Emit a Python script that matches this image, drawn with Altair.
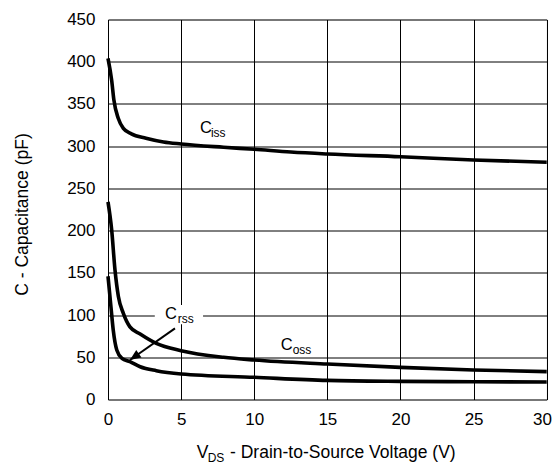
import altair as alt
import pandas as pd

# ---- data ----
vds_ciss = [0, 0.25, 0.4, 0.7, 1.05, 1.6, 2.6, 3.8, 5, 7.9, 10, 12.5, 15, 20, 25, 30]
ciss = [404, 378, 355, 333, 321, 314.5, 309.5, 305, 302.6, 298.7, 296.3, 293, 290.7, 287.5, 283.6, 281]

vds_coss = [0, 0.25, 0.48, 0.71, 1.05, 1.5, 2.2, 3.3, 5, 7.9, 10, 15, 20, 25, 30]
coss = [234, 201, 153, 122, 102, 86, 77.6, 66.5, 57.8, 50, 46.8, 42, 38.1, 35, 33]

vds_crss = [0, 0.2, 0.36, 0.6, 0.95, 1.5, 2.2, 3.3, 5, 10, 15, 20, 25, 30]
crss = [146, 110, 82, 58.6, 48.8, 44.8, 38.8, 34.1, 30.2, 26.3, 22.6, 21.5, 21.1, 20.7]

x_ticks = [0, 5, 10, 15, 20, 25, 30]
y_ticks = [0, 50, 100, 150, 200, 250, 300, 350, 400, 450]

# curve labels: main letter + subscript (data coordinates)
label_text = ["C", "iss", "C", "oss", "C", "rss"]
label_x = [6.29, 7.04, 11.81, 12.63, 3.90, 4.77]
label_y = [315.1, 310.4, 58.6, 53.9, 95.3, 90.2]
label_size = [16.5, 12, 16.5, 12, 16.5, 12]

# white box behind the Crss label, arrow from label to curve
box = {"x": [3.2], "x2": [6.5], "y": [89], "y2": [112]}
arrow_x = [4.58, 1.5]
arrow_y = [84.3, 46.8]

FONT = "Liberation Sans"

rows = []
for name, xs, ys in [("Ciss", vds_ciss, ciss), ("Coss", vds_coss, coss), ("Crss", vds_crss, crss)]:
    for a, b in zip(xs, ys):
        rows.append({"series": name, "vds": a, "c": b})
df = pd.DataFrame(rows)

x_scale = alt.Scale(domain=[0, 30], nice=False, zero=False)
y_scale = alt.Scale(domain=[0, 450], nice=False, zero=False)

x_axis = alt.Axis(values=x_ticks, title=None, grid=True, gridColor="black", gridWidth=1,
                  ticks=False, tickSize=0, domain=False, labelFont=FONT, labelFontSize=17,
                  labelColor="black", labelPadding=12, labelFlush=True, labelFlushOffset=4.7,
                  labelOverlap=False, format="d")
y_axis = alt.Axis(values=y_ticks, title="C - Capacitance (pF)", grid=True, gridColor="black",
                  gridWidth=1, ticks=False, tickSize=0, domain=False, labelFont=FONT,
                  labelFontSize=17, labelColor="black", labelPadding=13, labelFlush=False,
                  labelOverlap=False, format="d",
                  titleFont=FONT, titleFontSize=17.5, titleFontWeight="normal", titleColor="black",
                  titleAngle=270, titleX=-80.7, titleY=194.5, titleAlign="center",
                  titleBaseline="alphabetic")

curves = alt.Chart(df).mark_line(color="black", strokeWidth=3.6, interpolate="monotone").encode(
    x=alt.X("vds:Q", scale=x_scale, axis=x_axis),
    y=alt.Y("c:Q", scale=y_scale, axis=y_axis),
    detail="series:N",
)

box_chart = alt.Chart(pd.DataFrame(box)).mark_rect(color="white").encode(
    x=alt.X("x:Q", scale=x_scale), x2="x2:Q",
    y=alt.Y("y:Q", scale=y_scale), y2="y2:Q",
)

shaft = alt.Chart(pd.DataFrame({"x": arrow_x, "y": arrow_y})).mark_line(
    color="black", strokeWidth=2).encode(
    x=alt.X("x:Q", scale=x_scale), y=alt.Y("y:Q", scale=y_scale))

head = alt.Chart(pd.DataFrame({"x": [arrow_x[1]], "y": [arrow_y[1]]})).mark_point(
    shape="M0,0L-0.42,1L0.42,1Z", filled=True, size=480, angle=234.8,
    color="black", opacity=1, strokeWidth=0).encode(
    x=alt.X("x:Q", scale=x_scale), y=alt.Y("y:Q", scale=y_scale))

labels = alt.Chart(pd.DataFrame({"t": label_text, "x": label_x, "y": label_y, "s": label_size})).mark_text(
    align="left", baseline="alphabetic", font=FONT, color="black").encode(
    x=alt.X("x:Q", scale=x_scale), y=alt.Y("y:Q", scale=y_scale),
    text="t:N", size=alt.Size("s:Q", scale=None, legend=None))

def title_piece(txt, px, py, fs):
    return alt.Chart(pd.DataFrame({"t": [txt]})).mark_text(
        align="left", baseline="alphabetic", font=FONT, fontSize=fs, color="black").encode(
        text="t:N", x=alt.value(px), y=alt.value(py))

xt1 = title_piece("V", 88.7, 438.5, 17.5)
xt2 = title_piece("DS", 99.7, 442.5, 12)
xt3 = title_piece("- Drain-to-Source Voltage (V)", 122, 438.5, 17.5)

chart = alt.layer(curves, box_chart, shaft, head, labels, xt1, xt2, xt3).properties(
    width=438.7, height=380,
    padding={"left": 100, "top": 11.5, "right": 4.8, "bottom": 65.5},
    autosize=alt.AutoSizeParams(type="none"),
).configure_view(stroke="black", strokeWidth=2).configure(background="white")

chart.save("out.html", embed_options={"renderer": "svg", "actions": False})
